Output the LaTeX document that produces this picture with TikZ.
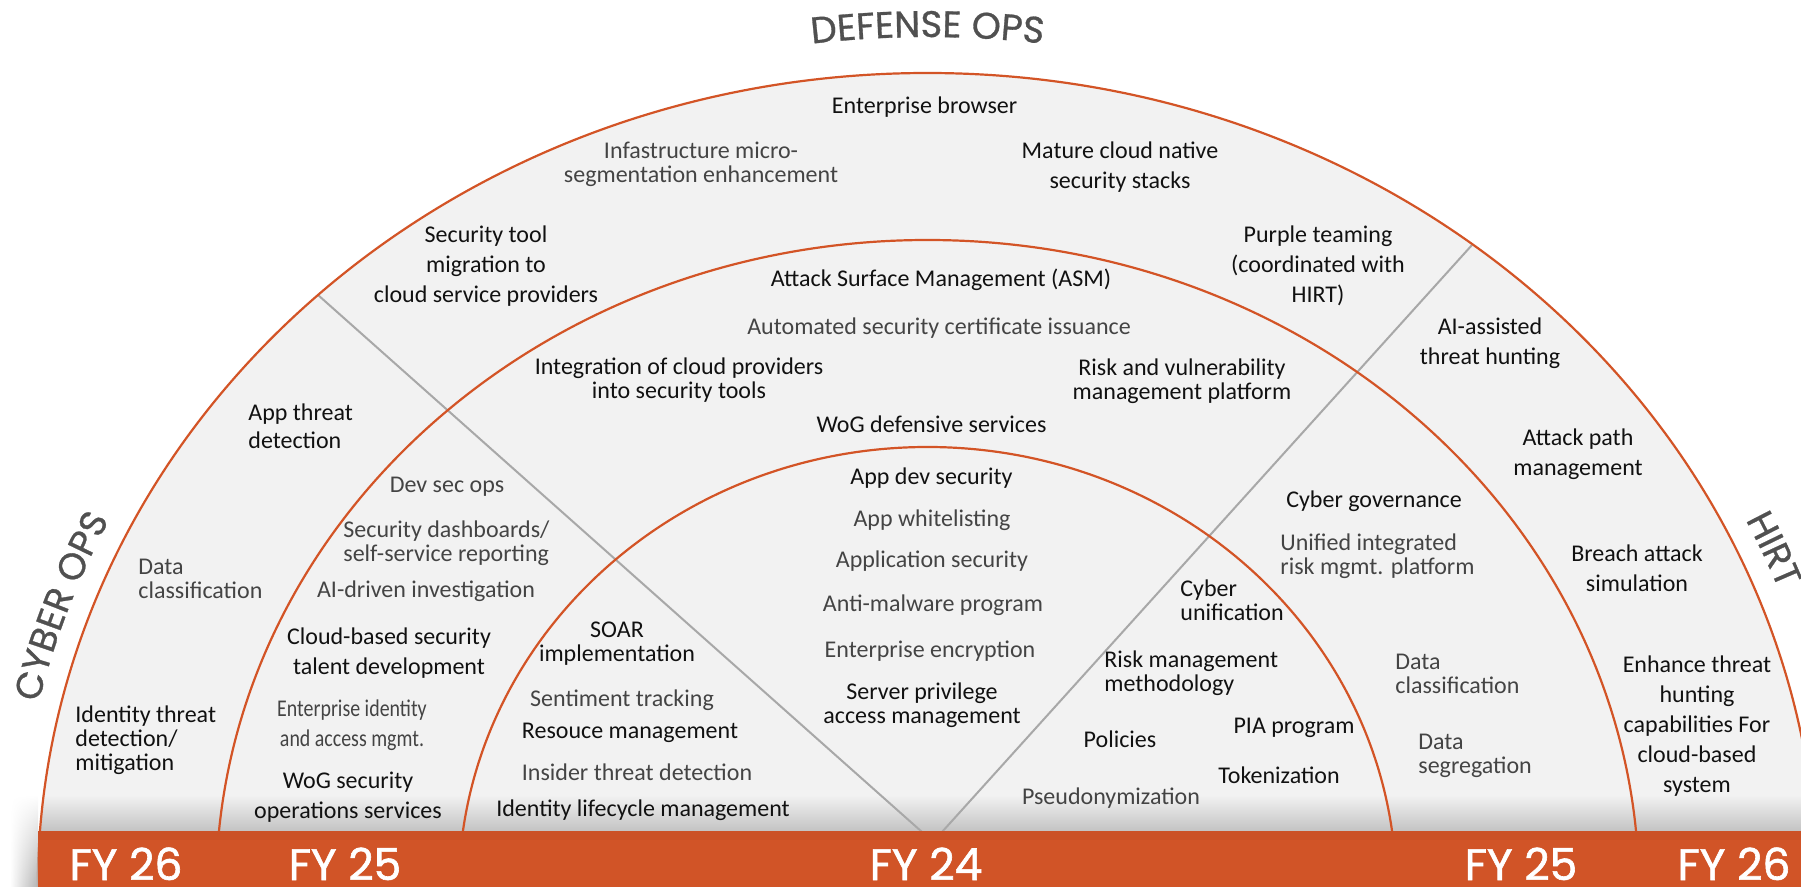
\documentclass[tikz,border=0pt]{standalone}
\usepackage{fontspec}
\setmainfont{Carlito}
\newfontfamily\titlefont[FakeBold=0.8]{Poppins}
\newfontfamily\fyfont[FakeBold=1.4]{Poppins}
\newfontfamily\condfont[FakeStretch=0.83]{Carlito}
\usetikzlibrary{decorations.text,fadings}
\definecolor{arcorange}{HTML}{D35426}
\definecolor{barorange}{HTML}{D15427}
\definecolor{bandorange}{HTML}{CB5126}
\definecolor{fanfill}{HTML}{F2F2F2}
\definecolor{radgray}{HTML}{A8A8A8}
\definecolor{txtblack}{HTML}{111111}
\definecolor{txtgray}{HTML}{444444}
\definecolor{titlegray}{HTML}{505050}
\begin{document}
\begin{tikzpicture}[x=0.5pt,y=0.5pt,
  lbl/.style={inner sep=0pt, align=center, text=txtblack, font=\fontsize{12}{12}\selectfont},
  lo/.style={font=\fontsize{12}{15}\selectfont},
  gry/.style={text=txtgray},
  lft/.style={anchor=west, align=left},
  arcline/.style={draw=arcorange, line width=1.1pt},
  radial/.style={draw=radgray, line width=1pt},
  fy/.style={inner sep=0pt, anchor=base, text=white, font=\fyfont\fontsize{22}{22}\selectfont},
  ttl/.style={decorate, decoration={text along path, text align=center, text color=titlegray,
     text={|\titlefont\fontsize{18.5}{18.5}\selectfont|#1}}}
]
\useasboundingbox (0,0) rectangle (1801,-887);
\clip (0,0) rectangle (1801,-887);
\coordinate (C) at (927.5,-891);
% fan
\fill[fanfill] (C) ellipse[x radius=889.9, y radius=818];
\begin{scope}
  \clip (C) ellipse[x radius=889.9, y radius=818];
  \shade[top color=fanfill, bottom color=black!24] (0,-795) rectangle (1801,-832);
\end{scope}
% radial separators
\coordinate (L1) at (318,-295); \coordinate (L2) at (922,-832);
\coordinate (R1) at (1472,-245); \coordinate (R2) at (942,-832);
\draw[radial] (L1) -- (L2);
\draw[radial] (R1) -- (R2);
% arcs
\draw[arcline] (C) ++(0:889.9 and 818) arc[start angle=0, end angle=180, x radius=889.9, y radius=818];
\draw[arcline] (C) ++(0:711.5 and 651) arc[start angle=0, end angle=180, x radius=711.5, y radius=651];
\draw[arcline] (C) ++(0:468.8 and 444) arc[start angle=0, end angle=180, x radius=468.8, y radius=444];
% left shadow and bar
\shade[left color=white, right color=black!30, path fading=north] (10,-795) rectangle (38,-887);
\fill[barorange] (38,-831) rectangle (1801,-887);
\fill[bandorange] (38,-831) rectangle (1801,-840);
% titles
\path[ttl={DEFENSE OPS}] (C) ++(105:926 and 854) arc[start angle=105, end angle=75, x radius=926, y radius=854];
\path[ttl={CYBER OPS}] (C) ++(176:912 and 840) arc[start angle=176, end angle=145, x radius=912, y radius=840];
\path[ttl={HIRT}] (C) ++(39:912 and 840) arc[start angle=39, end angle=8, x radius=912, y radius=840];
% outer band top
\node[lbl] (n1) at (924.6,-107) {Enterprise browser};
\node[lbl,gry] (n2) at (701,-164.5) {Infastructure micro-\\segmentation enhancement};
\node[lbl,lo] (n3) at (1120,-167.5) {Mature cloud native\\security stacks};
\node[lbl,lo] (n4) at (486,-266) {Security tool\\migration to\\cloud service providers};
\node[lbl,lo] (n5) at (1318,-266) {Purple teaming\\(coordinated with\\HIRT)};
% middle band top
\node[lbl] (n6) at (941,-280) {Attack Surface Management (ASM)};
\node[lbl,gry] (n7) at (939,-328) {Automated security certificate issuance};
\node[lbl] (n8) at (679,-380.5) {Integration of cloud providers\\into security tools};
\node[lbl] (n9) at (1182,-381.5) {Risk and vulnerability\\management platform};
\node[lbl] (n10) at (931.5,-424) {WoG defensive services};
% left outer band
\node[lbl,lft,font=\fontsize{12}{14}\selectfont] (n11) at (248,-426) {App threat\\detection};
\node[lbl,lft,gry] (n12) at (138,-579) {Data\\classification};
\node[lbl,lft] (n13) at (75,-740) {Identity threat\\detection/\\mitigation};
% left middle band
\node[lbl,gry] (n14) at (447,-487) {Dev sec ops};
\node[lbl,lft,gry] (n15) at (343,-543.5) {Security dashboards/\\self-service reporting};
\node[lbl,gry] (n16) at (426,-591) {AI-driven investigation};
\node[lbl,lo] (n17) at (389,-653.5) {Cloud-based security\\talent development};
\node[lbl,gry,font=\condfont\fontsize{12}{15}\selectfont] (n18) at (352,-725) {Enterprise identity\\and access mgmt.};
\node[lbl,lo] (n19) at (348,-797.5) {WoG security\\operations services};
% inner left
\node[lbl] (n20) at (617,-644) {SOAR\\implementation};
\node[lbl,gry] (n21) at (622,-700) {Sentiment tracking};
\node[lbl] (n22) at (630,-733) {Resouce management};
\node[lbl,gry] (n23) at (637,-772) {Insider threat detection};
\node[lbl] (n24) at (643,-810) {Identity lifecycle management};
% inner centre
\node[lbl] (n25) at (931.5,-478) {App dev security};
\node[lbl,gry] (n26) at (932,-520) {App whitelisting};
\node[lbl,gry] (n27) at (932,-561) {Application security};
\node[lbl,gry] (n28) at (933,-605) {Anti-malware program};
\node[lbl,gry] (n29) at (930,-651.5) {Enterprise encryption};
\node[lbl] (n30) at (922,-705) {Server privilege\\access management};
% inner right
\node[lbl,lft] (n31) at (1180,-600) {Cyber\\unification};
\node[lbl,lft] (n32) at (1104,-673.5) {Risk management\\methodology};
\node[lbl] (n33) at (1120,-739) {Policies};
\node[lbl] (n34) at (1294,-728) {PIA program};
\node[lbl] (n35) at (1279,-775) {Tokenization};
\node[lbl,gry] (n36) at (1111,-798) {Pseudonymization};
% right middle band
\node[lbl] (n37) at (1374,-501) {Cyber governance};
\node[lbl,lft,gry] (n38) at (1280,-556.5) {Unified integrated\\risk mgmt. platform};
\node[lbl,lft,gry] (n39) at (1395,-673.5) {Data\\classification};
\node[lbl,lft,gry] (n40) at (1418,-755.5) {Data\\segregation};
% right outer band
\node[lbl,lo] (n41) at (1490,-343) {AI-assisted\\threat hunting};
\node[lbl,lo] (n42) at (1578,-454.5) {Attack path\\management};
\node[lbl,lo] (n43) at (1637,-568) {Breach attack\\simulation};
\node[lbl,lo] (n44) at (1697,-726.5) {Enhance threat\\hunting\\capabilities For\\cloud-based\\system};
% FY labels
\node[fy] (fy1) at (126,-880) {FY 26};
\node[fy] (fy2) at (345,-880) {FY 25};
\node[fy] (fy3) at (926,-880) {FY 24};
\node[fy] (fy4) at (1521,-880) {FY 25};
\node[fy] (fy5) at (1734,-880) {FY 26};
\end{tikzpicture}
\end{document}
